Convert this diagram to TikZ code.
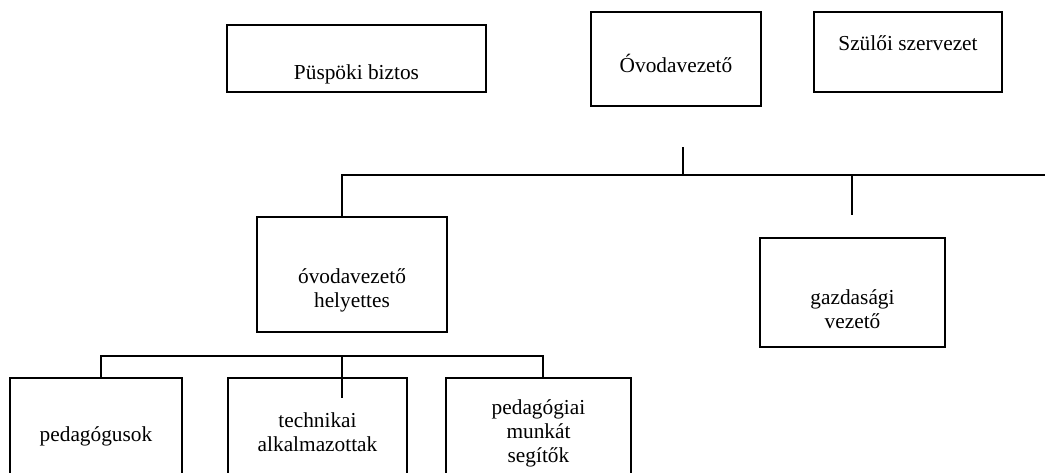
\documentclass[tikz,border=0pt]{standalone}
\usepackage{fontspec}
\setmainfont{Liberation Serif}
\usetikzlibrary{positioning,calc}
\tikzset{
    unitbox/.style={
        draw,
        line width=1.1pt,
        inner sep=0pt
    }
}
\tikzset{
    boxtext/.style={
        align=center,
        inner sep=0pt,
        font=\fontsize{16}{18}\selectfont
    }
}
\tikzset{
    orgline/.style={
        draw,
        line width=1.1pt
    }
}

\begin{document}
\begin{tikzpicture}[
    x=0.75pt,
    y=-0.75pt
]

\useasboundingbox (0,0) rectangle (1045,472);
\clip (0,0) rectangle (1045,472);

% top row
\node[unitbox, minimum width=194.25pt, minimum height=50.25pt] (puspoki) at (356.5,58.5) {};
\node[boxtext] (puspokitxt) at (356.5,74) {Püspöki biztos};

\node[unitbox, minimum width=127.5pt, minimum height=70.5pt] (vezeto) at (676,59) {};
\node[boxtext] (vezetotxt) at (676,63) {Óvodavezető};

\node[unitbox, minimum width=141pt, minimum height=60pt] (szuloi) at (908,52) {};
\node[boxtext] (szuloitxt) at (908,43) {Szülői szervezet};

% middle row
\node[unitbox, minimum width=142.5pt, minimum height=86.25pt] (helyettes) at (352,274.5) {};
\node[boxtext] (helyettestxt) at (352,290) {óvodavezető\\helyettes};

\node[unitbox, minimum width=138.75pt, minimum height=81.75pt] (gazdasagi) at (852.5,292.5) {};
\node[boxtext] (gazdasagitxt) at (852.5,309) {gazdasági\\vezető};

% bottom row
\node[unitbox, minimum width=129pt, minimum height=85.5pt] (pedagogus) at (96,435) {};
\node[boxtext] (pedagogustxt) at (96,436) {pedagógusok};

\node[unitbox, minimum width=134.25pt, minimum height=85.5pt] (technikai) at (317.5,435) {};
\node[boxtext] (technikaitxt) at (317.5,432) {technikai\\alkalmazottak};

\node[unitbox, minimum width=138.75pt, minimum height=85.5pt] (segitok) at (538.5,435) {};
\node[boxtext] (segitoktxt) at (538.5,433) {pedagógiai\\munkát\\segítők};

% connectors
\coordinate (ticktop) at (683,147);
\coordinate (tickbot) at (683,175);
\draw[orgline] (ticktop) -- (tickbot);

\coordinate (busend) at (1045,175);
\coordinate (buscorner) at (342,175);
\draw[orgline] (busend) -- (buscorner) -- (buscorner |- helyettes.north);

\coordinate (gazddrop) at (852,215);
\draw[orgline] (gazddrop |- busend) -- (gazddrop);

\coordinate (lowleft) at (101,356);
\coordinate (lowright) at (543,356);
\draw[orgline] (lowleft |- pedagogus.north) -- (lowleft) -- (lowright) -- (lowright |- segitok.north);

\coordinate (lowtick) at (342,398);
\draw[orgline] (lowtick |- lowleft) -- (lowtick);

\end{tikzpicture}
\end{document}
